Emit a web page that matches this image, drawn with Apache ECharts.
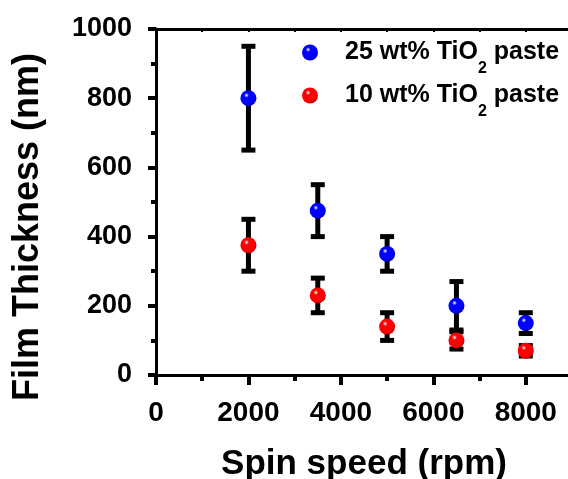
<!DOCTYPE html>
<html>
<head>
	<meta charset="utf-8">
	<title>Film thickness vs spin speed</title>
	<script src="https://cdn.jsdelivr.net/npm/echarts@6/dist/echarts.min.js"></script>
	<style>
		html, body { margin: 0; padding: 0; background: #FFFFFF; }
		#chart { width: 568px; height: 479px; }
	</style>
</head>
<body>
<div id="chart"></div>
<script type="text/javascript">
	// data
	var speeds = [2000, 3500, 5000, 6500, 8000];
	var thick25 = [800, 475, 350, 200, 150];
	var low25 = [650, 400, 300, 130, 120];
	var high25 = [950, 550, 400, 270, 180];
	var thick10 = [375, 230, 140, 100, 70];
	var low10 = [300, 180, 100, 75, 55];
	var high10 = [450, 280, 180, 125, 85];
	var names = ['25 wt% TiO2 paste', '10 wt% TiO2 paste'];
	var yTicks = [0, 200, 400, 600, 800, 1000];

	var font = "'Liberation Sans', Arial, sans-serif";

	function ball(c, dark) {
		return {
			type: 'radial', x: 0.38, y: 0.32, r: 0.7,
			colorStops: [
				{offset: 0, color: '#ffffff'},
				{offset: 0.22, color: c},
				{offset: 0.75, color: c},
				{offset: 1, color: dark}
			]
		};
	}

	function pairs(xs, ys) {
		return xs.map(function (x, i) { return [x, ys[i]]; });
	}
	function bars(xs, lo, hi) {
		return xs.map(function (x, i) { return [x, lo[i], hi[i]]; });
	}

	// error bar drawn as a stem plus two caps
	function errorBar(params, api) {
		var x = api.value(0);
		var lo = api.coord([x, api.value(1)]);
		var hi = api.coord([x, api.value(2)]);
		var half = 7;
		var st = {stroke: '#000', lineWidth: 5};
		return {
			type: 'group',
			children: [
				{type: 'line', shape: {x1: lo[0], y1: lo[1], x2: hi[0], y2: hi[1]}, style: st},
				{type: 'line', shape: {x1: lo[0] - half, y1: lo[1], x2: lo[0] + half, y2: lo[1]}, style: st},
				{type: 'line', shape: {x1: hi[0] - half, y1: hi[1], x2: hi[0] + half, y2: hi[1]}, style: st}
			]
		};
	}

	var myChart = echarts.init(document.getElementById('chart'));
	var option = {
		backgroundColor: '#FFFFFF',
		animation: false,
		textStyle: {fontFamily: font},
		grid: {left: 156, top: 29, width: 416, height: 346, outerBoundsMode: 'none', containLabel: false},
		graphic: [
			{
				type: 'text', x: 28, y: 227, rotation: Math.PI / 2,
				style: {
					text: 'Film Thickness (nm)', fill: '#000',
					font: 'bold 36px ' + font, align: 'center', verticalAlign: 'middle'
				}
			}
		],
		legend: {
			data: names,
			orient: 'vertical',
			left: 297,
			top: 35,
			itemWidth: 16,
			itemHeight: 16,
			itemGap: 6,
			icon: 'circle',
			formatter: function (name) {
				var p = name.split('TiO2');
				return '{a|' + p[0] + 'TiO}{s|2}{a|' + p[1] + '}';
			},
			textStyle: {
				padding: [0, 0, 0, 22],
				rich: {
					a: {fontSize: 25, fontWeight: 'bold', color: '#000', fontFamily: font, lineHeight: 25},
					s: {fontSize: 16, fontWeight: 'bold', color: '#000', fontFamily: font, verticalAlign: 'bottom', lineHeight: 25, padding: [0, 0, -12, 0]}
				}
			}
		},
		xAxis: [
			{
				type: 'value', min: 0, max: 9000, interval: 2000,
				name: 'Spin speed (rpm)', nameLocation: 'middle', nameGap: 72,
				nameTextStyle: {fontSize: 35, fontWeight: 'bold', color: '#000', fontFamily: font},
				splitLine: {show: false},
				axisLine: {onZero: false, lineStyle: {color: '#000', width: 3}},
				axisTick: {inside: false, length: 10, lineStyle: {width: 4}},
				minorTick: {show: true, splitNumber: 2, length: 6, lineStyle: {color: '#000', width: 4}},
				axisLabel: {
					fontSize: 28, fontWeight: 'bold', color: '#000', margin: 24, showMaxLabel: false,
					formatter: function (v) { return v === 9000 ? '' : String(v); }
				}
			},
			{
				type: 'value', position: 'top', min: 0, max: 9000, interval: 1000,
				splitLine: {show: false},
				axisLine: {onZero: false, lineStyle: {color: '#000', width: 3}},
				axisTick: {inside: true, length: 3, lineStyle: {width: 2}},
				axisLabel: {show: false}
			}
		],
		yAxis: {
			type: 'value', min: 0, max: 1000, interval: 200,
			splitLine: {show: false},
			axisLine: {onZero: false, lineStyle: {color: '#000', width: 3}},
			axisTick: {inside: false, length: 8, lineStyle: {width: 4}},
			minorTick: {show: true, splitNumber: 2, length: 5, lineStyle: {color: '#000', width: 4}},
			axisLabel: {
				fontSize: 27, fontWeight: 'bold', color: '#000', margin: 24,
				formatter: function (v) { return yTicks.indexOf(v) >= 0 ? String(v) : ''; }
			}
		},
		series: [
			{
				type: 'custom', name: 'err25', renderItem: errorBar,
				data: bars(speeds, low25, high25), z: 2, silent: true
			},
			{
				type: 'custom', name: 'err10', renderItem: errorBar,
				data: bars(speeds, low10, high10), z: 2, silent: true
			},
			{
				type: 'scatter', name: names[0], symbolSize: 16, z: 5,
				itemStyle: {color: ball('#0000ff', '#0000b0'), opacity: 1},
				data: pairs(speeds, thick25)
			},
			{
				type: 'scatter', name: names[1], symbolSize: 16, z: 5,
				itemStyle: {color: ball('#ff0000', '#c00000'), opacity: 1},
				data: pairs(speeds, thick10)
			}
		]
	};
	myChart.setOption(option);
</script>
</body>
</html>
